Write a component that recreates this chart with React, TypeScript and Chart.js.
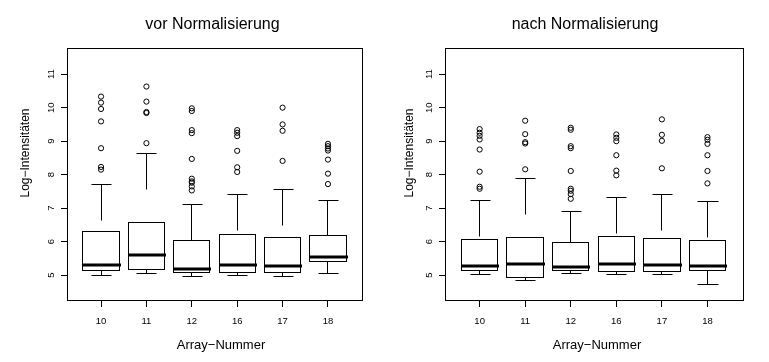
import React, { useEffect, useRef } from 'react';
import { Chart, registerables } from 'chart.js';

Chart.register(...registerables);

// ---------- data ----------
const groupLabels = ['10', '11', '12', '16', '17', '18'];
const yTickValues = [5, 6, 7, 8, 9, 10, 11];
const xTitleText = 'Array−Nummer';
const yTitleText = 'Log−Intensitäten';

const vorTitle = 'vor Normalisierung';
const vorLow = [5.0, 5.06, 4.97, 5.0, 4.97, 5.06];
const vorQ1 = [5.15, 5.18, 5.09, 5.09, 5.09, 5.42];
const vorMedian = [5.29, 5.58, 5.16, 5.29, 5.25, 5.52];
const vorQ3 = [6.31, 6.58, 6.04, 6.2, 6.13, 6.19];
const vorHigh = [7.72, 8.64, 7.1, 7.42, 7.57, 7.24];
const vorOutliers = [
  [10.33, 10.15, 9.96, 9.59, 8.79, 8.23, 8.15],
  [10.63, 10.18, 9.87, 9.84, 8.94],
  [9.98, 9.9, 9.33, 9.24, 8.47, 7.88, 7.8, 7.76, 7.65, 7.53],
  [9.33, 9.25, 9.15, 8.71, 8.22, 8.08],
  [10.0, 9.5, 9.31, 8.41],
  [8.92, 8.85, 8.78, 8.72, 8.45, 8.03, 7.72],
];

const nachTitle = 'nach Normalisierung';
const nachLow = [5.03, 4.85, 5.06, 5.03, 5.03, 4.73];
const nachQ1 = [5.14, 4.94, 5.15, 5.12, 5.12, 5.15];
const nachMedian = [5.25, 5.32, 5.22, 5.32, 5.28, 5.27];
const nachQ3 = [6.07, 6.13, 5.98, 6.16, 6.1, 6.04];
const nachHigh = [7.24, 7.9, 6.91, 7.33, 7.42, 7.21];
const nachOutliers = [
  [9.36, 9.25, 9.16, 9.05, 8.75, 8.09, 7.64, 7.58],
  [9.61, 9.21, 8.97, 8.93, 8.16],
  [9.4, 9.34, 8.85, 8.79, 8.11, 7.58, 7.52, 7.42, 7.28],
  [9.2, 9.1, 9.0, 8.58, 8.12, 7.98],
  [9.65, 9.19, 9.01, 8.19],
  [9.12, 9.04, 8.92, 8.58, 8.11, 7.74],
];

// ---------- layout / style ----------
const FONT = '"Liberation Sans", Arial, Helvetica, sans-serif';
const Y_MIN = 4.26;
const Y_MAX = 11.78;

type PanelCfg = {
  title: string;
  low: number[];
  q1: number[];
  med: number[];
  q3: number[];
  high: number[];
  outliers: number[][];
  left: number;
  width: number;
  height: number;
  area: { left: number; right: number; top: number; bottom: number };
  xMin: number;
  xMax: number;
  titleX: number;
  xlabX: number;
  ylabX: number;
  ylabY: number;
};

const panels: PanelCfg[] = [
  {
    title: vorTitle,
    low: vorLow,
    q1: vorQ1,
    med: vorMedian,
    q3: vorQ3,
    high: vorHigh,
    outliers: vorOutliers,
    left: 0,
    width: 384,
    height: 362,
    area: { left: 67, right: 362, top: 48, bottom: 300 },
    xMin: 0.25,
    xMax: 6.75,
    titleX: 212.5,
    xlabX: 221,
    ylabX: 28.5,
    ylabY: 153,
  },
  {
    title: nachTitle,
    low: nachLow,
    q1: nachQ1,
    med: nachMedian,
    q3: nachQ3,
    high: nachHigh,
    outliers: nachOutliers,
    left: 384,
    width: 385,
    height: 362,
    area: { left: 61, right: 359, top: 48, bottom: 300 },
    xMin: 0.24,
    xMax: 6.78,
    titleX: 201,
    xlabX: 213,
    ylabX: 28.5,
    ylabY: 153,
  },
];

function BoxPanel({ cfg }: { cfg: PanelCfg }) {
  const ref = useRef<HTMLCanvasElement>(null);

  useEffect(() => {
    const canvas = ref.current;
    if (!canvas) return;

    const points = cfg.outliers.flatMap((vals, i) => vals.map((v) => ({ x: i + 1, y: v })));

    const boxPlugin = {
      id: 'rBoxes',
      beforeDatasetsDraw(chart: any) {
        const { ctx, chartArea } = chart;
        const xs = chart.scales.x;
        const ys = chart.scales.y;
        const px = (v: number) => Math.floor(v) + 0.5;
        ctx.save();
        ctx.strokeStyle = '#000';
        ctx.lineWidth = 1;
        const line = (x1: number, y1: number, x2: number, y2: number) => {
          ctx.beginPath();
          ctx.moveTo(x1, y1);
          ctx.lineTo(x2, y2);
          ctx.stroke();
        };
        for (let i = 0; i < groupLabels.length; i++) {
          const c = i + 1;
          const xc = px(xs.getPixelForValue(c));
          const xl = px(xs.getPixelForValue(c - 0.4));
          const xr = px(xs.getPixelForValue(c + 0.4));
          const sl = px(xs.getPixelForValue(c - 0.21));
          const sr = px(xs.getPixelForValue(c + 0.21));
          const yLow = px(ys.getPixelForValue(cfg.low[i]));
          const yQ1 = px(ys.getPixelForValue(cfg.q1[i]));
          const yMed = px(ys.getPixelForValue(cfg.med[i]));
          const yQ3 = px(ys.getPixelForValue(cfg.q3[i]));
          const yHigh = px(ys.getPixelForValue(cfg.high[i]));

          ctx.lineWidth = 1;
          ctx.lineCap = 'butt';
          ctx.setLineDash([36, 36]);
          line(xc, yHigh, xc, yQ3);
          line(xc, yLow, xc, yQ1);
          ctx.setLineDash([]);
          line(sl, yHigh, sr + 1, yHigh);
          line(sl, yLow, sr + 1, yLow);
          ctx.strokeRect(xl, yQ3, xr - xl, yQ1 - yQ3);
          ctx.lineWidth = 3;
          line(xl - 0.5, yMed - 0.5, xr + 1.5, yMed - 0.5);
        }
        ctx.lineWidth = 1;
        ctx.strokeRect(
          chartArea.left + 0.5,
          chartArea.top + 0.5,
          chartArea.right - chartArea.left,
          chartArea.bottom - chartArea.top
        );
        ctx.restore();
      },
      afterDraw(chart: any) {
        const { ctx, chartArea } = chart;
        const xs = chart.scales.x;
        const ys = chart.scales.y;
        ctx.save();
        ctx.fillStyle = '#000';
        ctx.textBaseline = 'alphabetic';
        ctx.textAlign = 'center';

        ctx.font = `16px ${FONT}`;
        ctx.fillText(cfg.title, cfg.titleX, 28.5);

        ctx.font = `9.5px ${FONT}`;
        groupLabels.forEach((lab, i) => {
          ctx.fillText(lab, xs.getPixelForValue(i + 1), 323.5);
        });
        yTickValues.forEach((v) => {
          ctx.save();
          ctx.translate(chartArea.left - 13.5, ys.getPixelForValue(v));
          ctx.rotate(-Math.PI / 2);
          ctx.fillText(String(v), 0, 0);
          ctx.restore();
        });

        ctx.font = `13px ${FONT}`;
        ctx.fillText(xTitleText, cfg.xlabX, 348.5);

        ctx.save();
        ctx.font = `12px ${FONT}`;
        ctx.translate(cfg.ylabX, cfg.ylabY);
        ctx.rotate(-Math.PI / 2);
        ctx.fillText(yTitleText, 0, 0);
        ctx.restore();

        ctx.restore();
      },
    };

    const chart = new Chart(canvas, {
      type: 'scatter',
      data: {
        datasets: [
          {
            data: points,
            pointStyle: 'circle',
            pointRadius: 2.6,
            pointHoverRadius: 2.6,
            pointBorderWidth: 1,
            borderColor: '#000',
            backgroundColor: 'rgba(0,0,0,0)',
          },
        ],
      },
      options: {
        responsive: false,
        animation: false,
        events: [],
        layout: {
          padding: {
            top: cfg.area.top,
            right: cfg.width - cfg.area.right,
            bottom: 0,
            left: 0,
          },
        },
        plugins: {
          legend: { display: false },
          tooltip: { enabled: false },
          title: { display: false },
        },
        scales: {
          x: {
            type: 'linear',
            min: cfg.xMin,
            max: cfg.xMax,
            afterBuildTicks: (s: any) => {
              s.ticks = groupLabels.map((_, i) => ({ value: i + 1 }));
            },
            afterFit: (s: any) => {
              s.height = cfg.height - cfg.area.bottom;
            },
            ticks: { display: false },
            grid: {
              display: true,
              drawOnChartArea: false,
              drawTicks: true,
              tickLength: 7,
              color: '#000',
              lineWidth: 1,
            },
            border: { display: false },
          },
          y: {
            type: 'linear',
            min: Y_MIN,
            max: Y_MAX,
            afterBuildTicks: (s: any) => {
              s.ticks = yTickValues.map((v) => ({ value: v }));
            },
            afterFit: (s: any) => {
              s.width = cfg.area.left;
            },
            ticks: { display: false },
            grid: {
              display: true,
              drawOnChartArea: false,
              drawTicks: true,
              tickLength: 6,
              color: '#000',
              lineWidth: 1,
            },
            border: { display: false },
          },
        },
      },
      plugins: [boxPlugin],
    } as any);

    return () => chart.destroy();
  }, [cfg]);

  return (
    <canvas
      ref={ref}
      width={cfg.width}
      height={cfg.height}
      style={{
        position: 'absolute',
        left: cfg.left,
        top: 0,
        width: cfg.width,
        height: cfg.height,
      }}
    />
  );
}

export default function App() {
  return (
    <div
      style={{
        position: 'absolute',
        left: 0,
        top: 0,
        width: 769,
        height: 362,
        background: '#fff',
        overflow: 'hidden',
      }}
    >
      {panels.map((p) => (
        <BoxPanel key={p.title} cfg={p} />
      ))}
    </div>
  );
}
